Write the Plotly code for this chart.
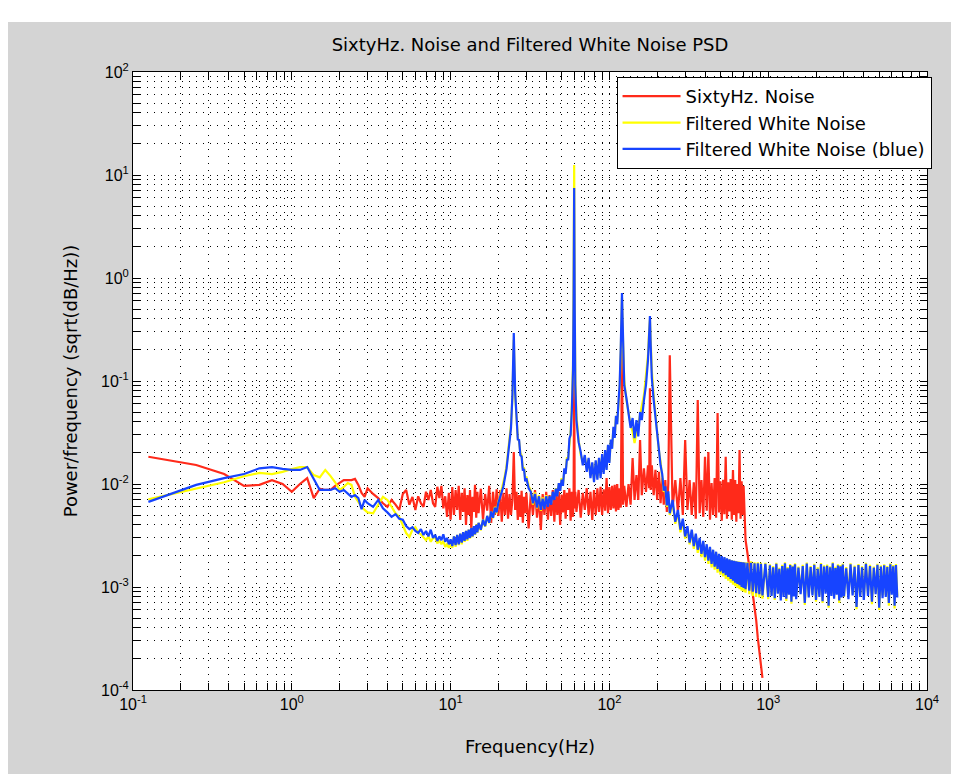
import plotly.graph_objects as go

# frequency grid (Hz) shared by the three PSD estimates
freq_hz = [
    0.125, 0.25, 0.375, 0.5, 0.625, 0.75, 0.875, 1, 1.125, 1.25, 1.375, 1.5,
    1.625, 1.75, 1.875, 2, 2.125, 2.25, 2.375, 2.5, 2.625, 2.75, 2.875, 3,
    3.25, 3.5, 3.75, 4, 4.25, 4.5, 4.75, 5, 5.25, 5.5, 5.75, 6, 6.25, 6.5,
    6.75, 7, 7.25, 7.5, 7.75, 8, 8.25, 8.5, 8.75, 9, 9.25, 9.5, 9.75, 10,
    10.25, 10.5, 10.75, 11, 11.25, 11.5, 11.75, 12, 12.25, 12.5, 12.75, 13,
    13.25, 13.5, 13.75, 14, 14.25, 14.5, 14.75, 15, 15.5, 16, 16.5, 17, 17.5,
    18, 18.5, 19, 19.5, 20,
    20.5, 21, 21.5, 22, 22.5, 23, 23.5, 24, 24.5, 25, 25.5, 26, 26.5, 27,
    27.5, 28, 28.5, 29, 29.5, 30, 31, 32, 33, 34, 35, 36, 37, 38, 39, 40,
    41, 42, 43, 44, 45, 46, 47, 48, 49, 50, 51, 52, 53, 54, 55, 56, 57, 58,
    59, 59.5, 60, 60.5, 61, 62, 64, 66, 68, 70, 72, 74, 76, 78, 80,
    82, 84, 86, 88, 90, 92, 94, 96, 98, 100, 102, 104, 106, 108, 110, 112,
    114, 116, 118, 120, 122, 124, 128, 132, 136, 140, 144, 148, 152, 156, 160,
    165, 170, 175, 178, 180, 182, 185, 190, 195, 200, 205, 210, 215, 220,
    225, 230, 235, 240, 250, 260, 270, 280, 290, 300, 310, 320,
    330, 340, 350, 360, 370, 380, 390, 400, 410, 420, 430, 440, 450, 460,
    470, 480, 490, 500, 510, 520, 530, 540, 550, 560, 570, 580, 590, 600,
    610, 620, 630, 640, 650, 660, 670, 680, 690, 700, 710,
    720, 740, 760, 780, 800, 820, 840, 860, 880, 900, 920,
    960, 1000,
    1025, 1050, 1075, 1100, 1125, 1150, 1175, 1200, 1225, 1250, 1275, 1300,
    1325, 1350, 1375, 1400, 1425, 1450, 1475, 1500, 1550, 1600, 1650, 1700,
    1750, 1800, 1850, 1900, 1950, 2000,
    2050, 2100, 2150, 2200, 2250, 2300, 2350, 2400, 2450, 2500, 2550, 2600,
    2650, 2700, 2750, 2800, 2850, 2900, 2950, 3000, 3100, 3200, 3300, 3400,
    3500, 3600, 3700, 3800, 3900, 4000,
    4125, 4250, 4375, 4500, 4625, 4750, 4875, 5000, 5125, 5250, 5375, 5500,
    5625, 5750, 5875, 6000, 6125, 6250, 6375, 6500,
]

# PSD values in units of 1e-3
red_mpsd = [
    18.4, 15.3, 12.5, 9.6, 9.8, 10.9, 10.0, 8.4, 10.0, 11.4, 7.3, 9.0, 8.75,
    8.75, 9.6, 10.2, 10.9, 10.9, 10.9, 11.2, 9.8, 8.2, 7.5, 9.1,
    8.0, 7.3, 6.5, 6.0, 7.0, 6.3, 5.6, 8.0, 8.75, 6.3, 7.5, 5.6, 7.6, 6.5,
    6.0, 8.4, 7.0, 8.75, 6.5, 6.0, 9.4, 7.3, 9.6, 5.8, 7.6, 4.8, 8.2, 4.5,
    9.35, 5.0, 8.75, 5.6, 9.6, 4.47, 8.2, 5.35, 9.1, 4.0, 7.8, 5.0, 8.75,
    3.58, 7.5, 5.35, 9.8, 4.7, 8.4, 5.2, 9.0, 4.5, 8.0, 5.5, 9.6, 4.2, 8.4,
    5.0, 8.9, 4.9,
    8.75, 4.3, 8.2, 5.0, 9.1, 4.6, 8.0, 5.0, 7.0, 20.4, 5.6, 8.4, 4.47, 7.8,
    4.78, 8.6, 4.2, 7.5, 5.2, 8.2, 3.7, 8.2, 5.0, 8.75, 4.7, 7.6, 3.58, 8.0,
    5.0, 8.4,
    4.5, 7.8, 4.9, 8.75, 4.3, 8.2, 5.0, 8.4, 4.0, 7.9, 5.3, 8.75, 4.6, 8.2,
    5.6, 9.1, 4.4, 8.4, 4.8, 7.5, 122, 5.8, 8.4, 5.35, 8.75, 4.7, 8.2, 5.6,
    9.1, 5.0, 8.4, 4.47, 8.75,
    5.0, 9.1, 5.35, 9.4, 5.0, 8.9, 5.5, 11.4, 5.2, 9.35, 5.6, 9.6, 5.8, 9.8,
    5.4, 10.0, 5.6, 9.1, 5.9, 200, 6.3, 9.6, 6.0, 10.0, 6.3, 17.9, 7.0, 12.2,
    7.0, 26.7, 7.8,
    14.2, 8.4, 15.2, 9.1, 85, 8.75, 15.2, 7.8, 13.7, 7.0, 13.1, 6.5, 11.4,
    6.3, 10.9, 5.35, 10.2, 178, 5.8, 10.9, 5.35, 11.4, 5.0, 26.7, 5.6, 10.9,
    5.0, 10.4, 4.6, 65.4, 5.2, 10.9, 4.8, 18.4, 5.5, 20.4, 4.5, 10.2, 5.0,
    11.4, 4.7, 48.9, 5.3, 10.6, 4.4, 11.0, 5.1, 18.4, 4.6, 10.4, 5.4, 11.2,
    4.5, 13.7, 5.0, 10.9, 4.3, 10.0, 5.2, 21.4, 4.6, 10.6, 5.0, 9.6, 4.8,
    2.86, 2.14, 1.53, 1.17, 0.9, 0.67, 0.478, 0.32, 0.23, 0.18, 0.131,
]

yellow_mpsd = [
    7.1, 9.1, 10.4, 11.9, 12.8, 12.5, 13.1, 14.0, 14.6, 14.6, 12.2, 11.6,
    13.7, 12.0, 10.4, 8.75, 9.35, 10.2, 9.8, 7.5, 6.7, 6.0, 5.6, 5.3,
    5.2, 6.3, 7.5, 7.0, 6.0, 5.2, 4.8, 4.0, 3.34, 3.06, 3.6, 3.8, 3.4, 3.25,
    3.0, 2.85, 3.1, 2.75, 3.0, 3.05, 2.65, 2.85, 2.6, 2.8, 2.45, 2.6, 2.4, 2.6,
    2.4, 3.1, 2.45, 3.2, 2.55, 3.3, 2.6, 3.4, 2.75, 3.5, 2.8, 3.6, 2.95,
    3.75, 3.05, 3.9, 3.2, 4.05, 3.35, 4.2, 3.55, 4.55, 3.85, 4.9, 4.15, 5.4,
    4.65, 6.0, 5.2, 6.8,
    7.6, 8.75, 10.0, 12.2, 15.0, 21.4, 27, 37.4, 68, 250, 73, 39, 28, 26, 20,
    19, 14.2, 14.5, 11.4, 11.8, 9.6, 8.6, 6.3, 8.3, 5.8, 7.8, 5.5, 7.4, 5.8,
    7.8,
    6.2, 7.5, 6.5, 8.2, 7.2, 9.1, 7.8, 10.0, 8.8, 11.4, 10.0, 13.1, 13.0,
    17.9, 18, 24, 32, 58, 143, 956, 12500, 612, 102, 46.8, 26.7, 19.1, 16.2,
    18.5, 14.2, 17.5, 12.0, 15.8, 11.0,
    16.5, 11.5, 17.5, 12.0, 19, 13, 21, 14, 23.5, 16.5, 26.5, 22.5, 35, 29,
    45, 40, 58, 82, 200, 640, 224, 102, 65.4, 46.8, 37.4, 32, 25, 32, 37.4,
    46.8, 58,
    73, 114, 178, 312, 391, 250, 128, 73, 46.8, 30, 21, 16.5, 12.5, 8.4, 9.0,
    6.0, 8.0, 5.0, 6.6, 4.1, 5.3, 3.4, 4.3, 2.95, 3.7, 2.6,
    3.5, 2.35, 3.2, 2.15, 2.9, 1.95, 2.7, 1.8, 2.5, 1.68, 2.4, 1.55, 2.25,
    1.47, 2.15, 1.38, 2.05, 1.32, 1.98, 1.27, 1.93, 1.2, 1.88, 1.15, 1.85,
    1.1, 1.82, 1.05, 1.8, 1.02, 1.78, 0.98, 1.77, 0.95, 1.76, 0.92, 1.75,
    0.9, 1.74, 0.88, 1.75, 0.85, 1.78, 0.82, 1.74, 0.8, 1.74, 0.79, 1.72,
    0.77,
    1.72, 0.76,
    1.66, 0.84, 1.6, 0.75, 1.72, 0.88, 1.54, 0.78, 1.64, 0.84, 1.74, 0.73,
    1.56, 0.86, 1.67, 0.69, 1.62, 0.84, 1.7, 0.8, 1.58, 0.88, 1.64, 0.67,
    1.73, 0.82, 1.6, 0.86, 1.68, 0.72,
    1.55, 0.84, 1.71, 0.7, 1.62, 0.9, 1.65, 0.63, 1.59, 0.86, 1.74, 0.8,
    1.57, 0.88, 1.66, 0.7, 1.63, 0.84, 1.69, 0.8, 1.56, 0.83, 1.7, 0.86,
    1.61, 0.61, 1.67, 0.85, 1.59, 0.8,
    1.72, 0.86, 1.64, 0.68, 1.58, 0.88, 1.68, 0.6, 1.62, 0.83, 1.66, 0.84,
    1.6, 0.66, 1.7, 0.88, 1.63, 0.62, 1.67, 0.82,
]

blue_mpsd = [
    6.7, 9.8, 11.4, 12.5, 14.2, 14.6, 14.0, 13.7, 13.7, 14.6, 11.2, 8.75,
    8.75, 8.75, 9.1, 8.4, 8.75, 8.0, 7.5, 7.8, 7.3, 5.7, 7.0, 6.5,
    6.0, 7.0, 5.8, 5.3, 4.8, 5.1, 4.6, 4.5, 3.9, 3.65, 3.8, 3.5, 3.35, 3.65,
    3.2, 3.5, 3.1, 3.6, 3.0, 3.2, 2.8, 3.1, 2.85, 3.25, 2.75, 3.0, 2.6, 2.9,
    2.5, 3.1, 2.55, 3.2, 2.6, 3.3, 2.7, 3.4, 2.8, 3.5, 2.9, 3.6, 3.0, 3.75,
    3.1, 3.9, 3.25, 4.0, 3.4, 4.2, 3.6, 4.5, 3.9, 4.9, 4.2, 5.4, 4.7, 5.9,
    5.3, 6.6,
    7.3, 8.4, 9.5, 11.4, 14.0, 19.1, 25, 34.9, 73, 292, 78, 37.4, 27, 26.7,
    19, 18.5, 13.5, 14.0, 10.6, 11.4, 9.1, 8.4, 6.5, 8.0, 5.9, 7.6, 5.6, 7.2,
    5.7, 7.6,
    6.0, 7.6, 6.3, 8.4, 7.0, 9.0, 7.6, 10.2, 8.6, 11.0, 9.6, 14.2, 12.5,
    17.5, 17.0, 27.5, 30, 52, 128, 612, 7480, 489, 91.5, 41.8, 25.5, 20.4,
    15.2, 19.1, 13.1, 17.9, 11.4, 16.2, 10.4,
    17.0, 11.0, 18.0, 11.4, 19.5, 12.5, 21.4, 13.7, 24, 16.0, 27, 22, 36, 28,
    46, 38, 62, 91.5, 224, 715, 250, 91.5, 68, 50, 35, 43.7, 27.9, 41.8, 29,
    50, 41.8,
    65, 91.5, 160, 280, 428, 224, 107, 65.4, 43.7, 27.9, 19.1, 15.2, 12.5,
    8.6, 9.5, 6.2, 8.5, 5.2, 7.0, 4.3, 5.6, 3.6, 4.6, 3.1, 3.9, 2.7,
    3.6, 2.5, 3.3, 2.3, 3.0, 2.1, 2.8, 1.95, 2.6, 1.8, 2.45, 1.68, 2.3,
    1.58, 2.2, 1.5, 2.1, 1.42, 2.0, 1.36, 1.95, 1.3, 1.9, 1.25, 1.86, 1.2,
    1.82, 1.15, 1.8, 1.1, 1.78, 1.07, 1.76, 1.04, 1.75, 1.0, 1.74, 0.98,
    1.73, 0.95, 1.72, 0.92, 1.72, 0.9, 1.7, 0.87, 1.7, 0.85, 1.68, 0.83,
    1.68, 0.8,
    1.62, 0.82, 1.55, 0.78, 1.68, 0.86, 1.5, 0.74, 1.6, 0.8, 1.7, 0.77, 1.52,
    0.84, 1.63, 0.72, 1.58, 0.81, 1.66, 0.76, 1.54, 0.85, 1.6, 0.7, 1.69,
    0.79, 1.56, 0.83, 1.64, 0.75,
    1.5, 0.8, 1.67, 0.73, 1.58, 0.86, 1.61, 0.66, 1.55, 0.82, 1.7, 0.77,
    1.53, 0.84, 1.62, 0.74, 1.59, 0.79, 1.65, 0.81, 1.52, 0.76, 1.66, 0.83,
    1.57, 0.64, 1.63, 0.8, 1.55, 0.75,
    1.68, 0.82, 1.6, 0.72, 1.54, 0.85, 1.64, 0.63, 1.58, 0.78, 1.62, 0.8,
    1.56, 0.7, 1.66, 0.84, 1.59, 0.66, 1.63, 0.79,
]

assert len(blue_mpsd) == len(freq_hz), (len(blue_mpsd), len(freq_hz))
assert len(yellow_mpsd) == len(freq_hz), (len(yellow_mpsd), len(freq_hz))
assert len(red_mpsd) == 252, len(red_mpsd)

decades = [0.1, 1, 10, 100, 1000, 10000]
decade_labels = ["10<sup>-1</sup>", "10<sup>0</sup>", "10<sup>1</sup>",
                 "10<sup>2</sup>", "10<sup>3</sup>", "10<sup>4</sup>"]
y_decades = [1e-4, 1e-3, 1e-2, 1e-1, 1, 10, 100]
y_labels = ["10<sup>-4</sup>", "10<sup>-3</sup>", "10<sup>-2</sup>",
            "10<sup>-1</sup>", "10<sup>0</sup>", "10<sup>1</sup>",
            "10<sup>2</sup>"]

FONT = "DejaVu Sans, Liberation Sans, sans-serif"
TICK_FONT = "Liberation Sans, Arial, sans-serif"
GRID_DASH = "1px,6px"

fig = go.Figure()
series = [
    ("SixtyHz. Noise", red_mpsd, "#ff2a1a"),
    ("Filtered White Noise", yellow_mpsd, "#ffff00"),
    ("Filtered White Noise (blue)", blue_mpsd, "#1744ff"),
]
for i, (name, vals, color) in enumerate(series):
    fig.add_trace(go.Scatter(
        x=freq_hz[:len(vals)],
        y=[v * 1e-3 for v in vals],
        mode="lines",
        name=name,
        legendgroup=str(i),
        line=dict(color=color, width=2.2),
    ))


def axis_style(major, labels):
    minor_vals = [m * d for d in major[:-1] for m in range(2, 10)]
    return dict(
        type="log",
        showline=True, linecolor="black", linewidth=1, mirror="allticks",
        ticks="inside", ticklen=7, tickcolor="black",
        tickmode="array", tickvals=major, ticktext=labels,
        tickfont=dict(family=TICK_FONT, size=16, color="black"),
        showgrid=True, gridcolor="black", gridwidth=1, griddash=GRID_DASH,
        zeroline=False,
        minor=dict(tickmode="array", tickvals=minor_vals, ticks="inside",
                   ticklen=7, tickcolor="black", showgrid=True,
                   gridcolor="black", gridwidth=1, griddash=GRID_DASH),
    )


fig.update_xaxes(axis_style(decades, decade_labels), range=[-1, 4],
                 title=dict(text="Frequency(Hz)", standoff=28,
                            font=dict(family=FONT, size=18, color="black")))
fig.update_yaxes(axis_style(y_decades, y_labels), range=[-4, 2],
                 title=dict(text="Power/frequency (sqrt(dB/Hz))", standoff=18,
                            font=dict(family=FONT, size=18, color="black")))

fig.update_layout(
    width=943, height=766,
    margin=dict(l=125, r=18, t=64, b=84),
    paper_bgcolor="#d4d4d4",
    plot_bgcolor="white",
    font=dict(family=FONT, size=16, color="black"),
    title=dict(text="SixtyHz. Noise and Filtered White Noise PSD",
               x=0.5, xref="paper", xanchor="center",
               y=1 - 37 / 766, yref="container", yanchor="middle",
               font=dict(family=FONT, size=18, color="black")),
    legend=dict(x=0.609, y=0.992, xanchor="left", yanchor="top",
                bgcolor="white", bordercolor="black", borderwidth=1,
                font=dict(family=FONT, size=18, color="black"),
                tracegroupgap=0, itemwidth=58),
    showlegend=True,
    shapes=[
        # white strip above the grey figure window
        dict(type="rect", xref="paper", yref="paper", x0=-0.2, x1=1.1,
             y0=(682 - 14) / 618, y1=1.12, fillcolor="white", line_width=0,
             layer="below"),
    ],
)

fig.write_html("out.html")
